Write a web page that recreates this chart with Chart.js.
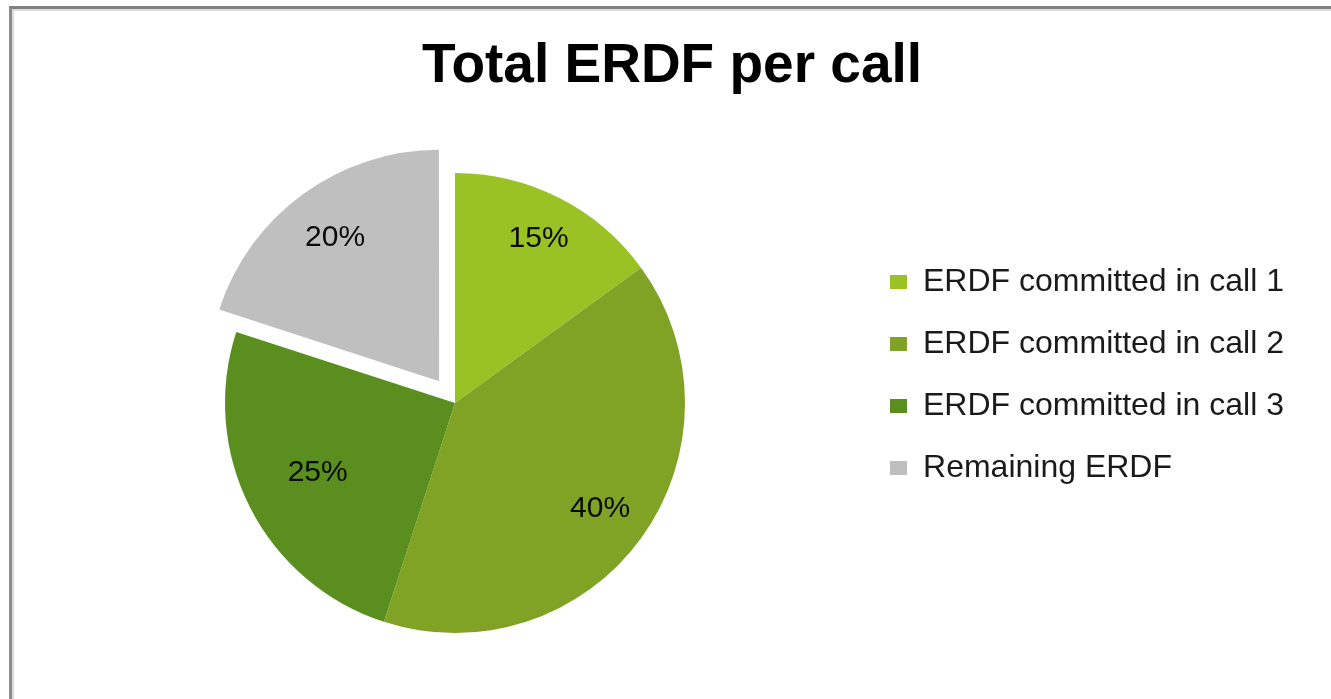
<!DOCTYPE html>
<html>
<head>
<meta charset="utf-8">
<title>Total ERDF per call</title>
<script src="https://cdn.jsdelivr.net/npm/chart.js@4.4.1/dist/chart.umd.min.js"></script>
<style>
    html, body { margin: 0; padding: 0; background: #fff; overflow: hidden; }
    #frame {
        position: absolute; left: 9px; top: 6px; width: 1400px; height: 800px;
        border-top: 3px solid #808080; border-left: 3px solid #8c8c8c;
        box-shadow: inset 2px 2px 0 #dcdcdc;
    }
    #wrap { position: absolute; left: 0; top: 0; width: 1331px; height: 699px; }
</style>
</head>
<body>
<div id="frame"></div>
<div id="wrap"><canvas id="pieChart" width="1331" height="699"></canvas></div>
<script>
// values
const categories = ['ERDF committed in call 1', 'ERDF committed in call 2', 'ERDF committed in call 3', 'Remaining ERDF'];
const shares = [15, 40, 25, 20];
const sliceColors = ['#9BC224', '#80A326', '#5A8F1F', '#BFBFBF'];
const explode = [0, 0, 0, 108];      // arc offset (Chart.js moves it by offset / 4)
const labelDistance = [0.80, 0.78, 0.67, 0.77];

// percentage labels inside each slice
const sliceLabels = {
    id: 'sliceLabels',
    afterDatasetsDraw(chart) {
        const ctx = chart.ctx;
        const meta = chart.getDatasetMeta(0);
        const total = shares.reduce((a, b) => a + b, 0);
        ctx.save();
        ctx.font = '30px "Liberation Sans", Arial, sans-serif';
        ctx.fillStyle = '#0a0a0a';
        ctx.textAlign = 'center';
        ctx.textBaseline = 'middle';
        meta.data.forEach((arc, i) => {
            const p = arc.getProps(['x', 'y', 'startAngle', 'endAngle', 'outerRadius']);
            const mid = (p.startAngle + p.endAngle) / 2;
            const shift = (arc.options.offset || 0) / 4;
            const r = p.outerRadius * labelDistance[i];
            const x = p.x + Math.cos(mid) * (r + shift);
            const y = p.y + Math.sin(mid) * (r + shift);
            ctx.fillText(Math.round(shares[i] / total * 100) + '%', x, y);
        });
        ctx.restore();
    }
};

const ctx = document.getElementById('pieChart').getContext('2d');
new Chart(ctx, {
    type: 'pie',
    data: {
        labels: categories,
        datasets: [{
            data: shares,
            backgroundColor: sliceColors,
            borderWidth: 0,
            offset: explode,
            radius: 230,
            clip: false
        }]
    },
    options: {
        responsive: false,
        animation: false,
        events: [],
        layout: {
            padding: { left: 50, right: 37, top: 0, bottom: 129 }
        },
        plugins: {
            title: {
                display: true,
                text: 'Total ERDF per call',
                color: '#000',
                font: { family: '"Liberation Sans", Arial, sans-serif', size: 55, weight: 'bold', lineHeight: 1.2 },
                padding: { top: 34, bottom: 136 }
            },
            legend: {
                position: 'right',
                align: 'start',
                fullSize: false,
                labels: {
                    color: '#1a1a1a',
                    font: { family: '"Liberation Sans", Arial, sans-serif', size: 32 },
                    boxWidth: 17,
                    boxHeight: 14,
                    padding: 30
                }
            },
            tooltip: { enabled: false }
        }
    },
    plugins: [sliceLabels]
});
</script>
</body>
</html>
